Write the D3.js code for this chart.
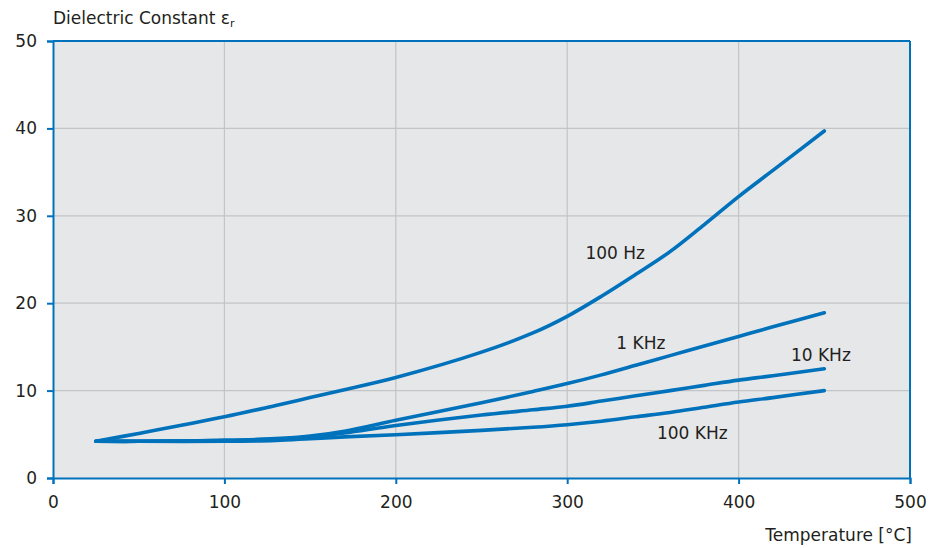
<!DOCTYPE html>
<html><head><meta charset="utf-8">
<script src="https://cdn.jsdelivr.net/npm/d3@7"></script>
<style>
body{margin:0;background:#fff;}
text{font-family:"DejaVu Sans",sans-serif;fill:#231f20;}
</style></head>
<body><svg id="c" width="945" height="548"></svg>
<script>
const temps  = [25, 50, 100, 130, 150, 170, 200, 250, 280, 300, 320, 340, 360, 380, 400, 420, 450];
const hz100  = [4.2, 5.1, 7.0, 8.3, 9.2, 10.1, 11.5, 14.4, 16.6, 18.5, 20.8, 23.3, 25.9, 29.0, 32.2, 35.2, 39.7];
const khz1   = [4.2, 4.2, 4.3, 4.5, 4.8, 5.35, 6.6, 8.6, 9.9, 10.8, 11.8, 12.9, 14.0, 15.1, 16.2, 17.3, 18.9];
const khz10  = [4.2, 4.2, 4.3, 4.45, 4.7, 5.15, 6.0, 7.2, 7.8, 8.2, 8.8, 9.4, 10.0, 10.6, 11.2, 11.7, 12.5];
const khz100 = [4.2, 4.2, 4.2, 4.3, 4.5, 4.7, 4.95, 5.45, 5.8, 6.1, 6.5, 7.0, 7.5, 8.1, 8.7, 9.2, 10.0];
const seriesNames = ["100 Hz", "1 KHz", "10 KHz", "100 KHz"];
const labelPos = [[328, 25.7], [343, 15.4], [448, 14.1], [373, 5.1]];
const xTicks = [0, 100, 200, 300, 400, 500];
const yTicks = [0, 10, 20, 30, 40, 50];

const svg = d3.select("#c");
const L = 53, R = 910, T = 41, B = 478;
const x = d3.scaleLinear().domain([0, 500]).range([L, R]);
const y = d3.scaleLinear().domain([0, 50]).range([B, T]);
const blue = "#0072bc";

svg.append("rect").attr("x", L).attr("y", T).attr("width", R - L).attr("height", B - T).attr("fill", "#e6e7e9");

// grid
svg.append("g").selectAll("line").data(xTicks.slice(1, -1)).join("line")
  .attr("x1", d => x(d)).attr("x2", d => x(d)).attr("y1", T).attr("y2", B)
  .attr("stroke", "#c3c4c6").attr("stroke-width", 1.2);
svg.append("g").selectAll("line").data(yTicks.slice(1, -1)).join("line")
  .attr("x1", L).attr("x2", R).attr("y1", d => y(d)).attr("y2", d => y(d))
  .attr("stroke", "#c3c4c6").attr("stroke-width", 1.2);

// axes
const xAxis = svg.append("g").attr("transform", `translate(0,${B})`)
  .call(d3.axisBottom(x).tickValues(xTicks).tickSize(6).tickPadding(12));
const yAxis = svg.append("g").attr("transform", `translate(${L},0)`)
  .call(d3.axisLeft(y).tickValues(yTicks).tickSize(6).tickPadding(10));
[xAxis, yAxis].forEach(a => {
  a.select(".domain").attr("stroke", blue).attr("stroke-width", 2);
  a.selectAll(".tick line").attr("stroke", blue).attr("stroke-width", 2);
  a.selectAll(".tick text").attr("font-size", 17).attr("fill", "#231f20")
    .attr("font-family", '"DejaVu Sans",sans-serif');
});
// top and right frame
svg.append("line").attr("x1", L).attr("x2", R).attr("y1", T).attr("y2", T).attr("stroke", blue).attr("stroke-width", 2);
svg.append("line").attr("x1", R).attr("x2", R).attr("y1", T).attr("y2", B).attr("stroke", blue).attr("stroke-width", 2);

// curves
const line = d3.line().x(d => x(d[0])).y(d => y(d[1])).curve(d3.curveCatmullRom.alpha(0.5));
[hz100, khz1, khz10, khz100].forEach(vals => {
  svg.append("path").datum(temps.map((t, i) => [t, vals[i]]))
    .attr("d", line).attr("fill", "none").attr("stroke", blue)
    .attr("stroke-width", 3.6).attr("stroke-linecap", "round").attr("stroke-linejoin", "round");
});

// labels
svg.append("g").selectAll("text").data(seriesNames).join("text")
  .attr("x", (d, i) => x(labelPos[i][0])).attr("y", (d, i) => y(labelPos[i][1]))
  .attr("text-anchor", "middle").attr("dominant-baseline", "central")
  .attr("font-size", 17).text(d => d);

// titles
const t = svg.append("text").attr("x", 53).attr("y", 24).attr("font-size", 17);
t.append("tspan").text("Dielectric Constant ε");
t.append("tspan").attr("font-size", 11).attr("dy", 3).text("r");
svg.append("text").attr("x", R + 2).attr("y", 541).attr("text-anchor", "end").attr("font-size", 17).text("Temperature [°C]");
</script></body></html>
